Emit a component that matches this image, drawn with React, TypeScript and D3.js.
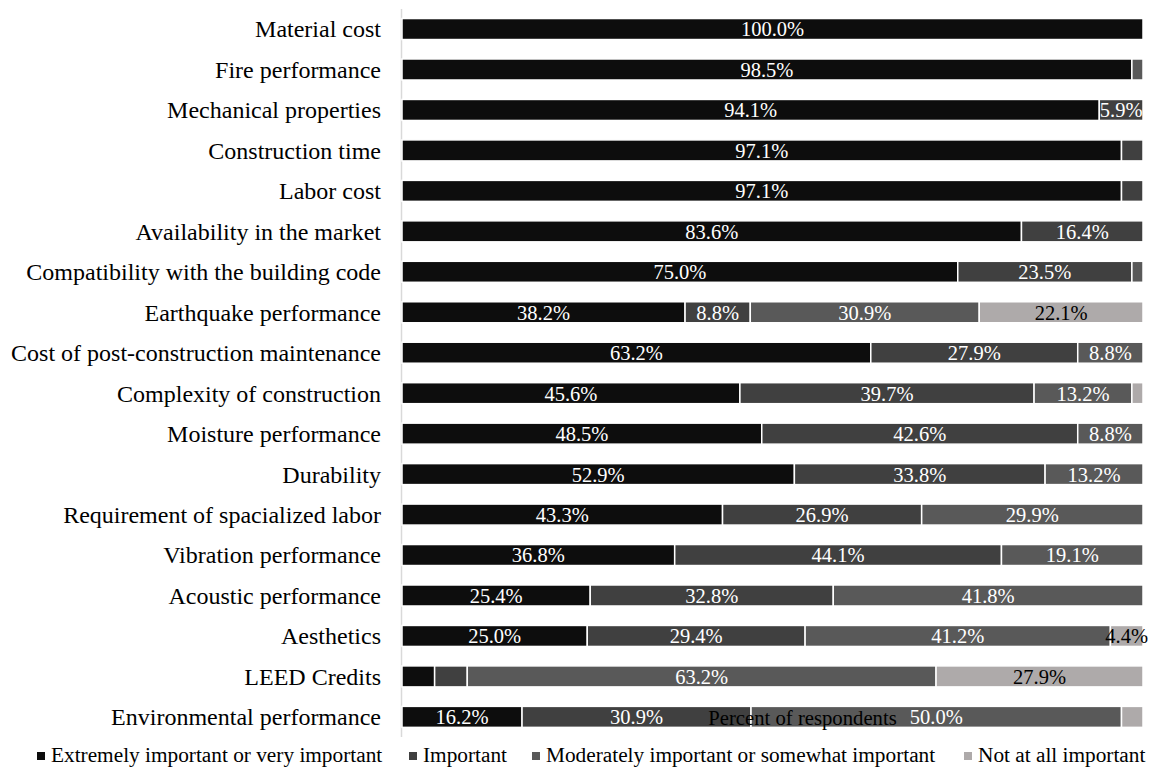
import React from "react";
import * as d3 from "d3";

// Survey factors, top to bottom
const categories = [
  "Material cost",
  "Fire performance",
  "Mechanical properties",
  "Construction time",
  "Labor cost",
  "Availability in the market",
  "Compatibility with the building code",
  "Earthquake performance",
  "Cost of post-construction maintenance",
  "Complexity of construction",
  "Moisture performance",
  "Durability",
  "Requirement of spacialized labor",
  "Vibration performance",
  "Acoustic performance",
  "Aesthetics",
  "LEED Credits",
  "Environmental performance",
];

const seriesNames = [
  "Extremely important or very important",
  "Important",
  "Moderately important or somewhat important",
  "Not at all important",
];

// Percent of respondents per category, one array per response level
const extremely = [100.0, 98.5, 94.1, 97.1, 97.1, 83.6, 75.0, 38.2, 63.2, 45.6, 48.5, 52.9, 43.3, 36.8, 25.4, 25.0, 4.4, 16.2];
const important = [0, 0, 5.9, 2.9, 2.9, 16.4, 23.5, 8.8, 27.9, 39.7, 42.6, 33.8, 26.9, 44.1, 32.8, 29.4, 4.4, 30.9];
const moderately = [0, 1.5, 0, 0, 0, 0, 1.5, 30.9, 8.8, 13.2, 8.8, 13.2, 29.9, 19.1, 41.8, 41.2, 63.2, 50.0];
const notAtAll = [0, 0, 0, 0, 0, 0, 0, 22.1, 0, 1.5, 0, 0, 0, 0, 0, 4.4, 27.9, 2.9];

const seriesValues = [extremely, important, moderately, notAtAll];
const colors = ["#0d0d0d", "#404040", "#595959", "#aeaaaa"];
const labelColors = ["#ffffff", "#ffffff", "#ffffff", "#000000"];

// Segments whose data labels are left off
const hiddenLabels = new Set(["LEED Credits|0", "LEED Credits|1"]);
const minLabeled = 4;

const W = 1157;
const H = 767;
const FONT = "'Liberation Serif', 'Times New Roman', serif";

const legendX = [37, 409, 532, 964];

export default function App() {
  const x = d3.scaleLinear().domain([0, 100]).range([402, 1143]);
  const y = d3
    .scaleBand<string>()
    .domain(categories)
    .range([8.8, 737.1])
    .paddingInner(0.481)
    .paddingOuter(0.2405);

  const rows = categories.map((cat, i) => {
    const vals = seriesValues.map((s) => s[i]);
    const total = d3.sum(vals);
    let acc = 0;
    const segs = vals.map((v, k) => {
      const x0 = (acc / total) * 100;
      acc += v;
      const x1 = (acc / total) * 100;
      return { k, v, x0, x1 };
    });
    return { cat, segs };
  });

  const bw = y.bandwidth();

  return (
    <svg
      width={W}
      height={H}
      style={{ position: "absolute", left: 0, top: 0, background: "#fff" }}
      fontFamily={FONT}
    >
      <rect x={0} y={0} width={W} height={H} fill="#ffffff" />
      {/* category axis line */}
      <line x1={401.5} x2={401.5} y1={9} y2={737} stroke="#d9d9d9" strokeWidth={1.5} />

      {rows.map((r) => {
        const y0 = y(r.cat)!;
        const cy = y0 + bw / 2;
        return (
          <g key={r.cat}>
            <text x={381} y={cy + 8.4} textAnchor="end" fontSize={24} fill="#000">
              {r.cat}
            </text>
            {r.segs
              .filter((s) => s.v > 0)
              .map((s) => (
                <rect
                  key={s.k}
                  x={x(s.x0)}
                  y={y0}
                  width={x(s.x1) - x(s.x0)}
                  height={bw}
                  fill={colors[s.k]}
                  stroke="#ffffff"
                  strokeWidth={1.5}
                />
              ))}
            {r.segs
              .filter((s) => s.v >= minLabeled && !hiddenLabels.has(`${r.cat}|${s.k}`))
              .map((s) => (
                <text
                  key={"l" + s.k}
                  x={(x(s.x0) + x(s.x1)) / 2}
                  y={cy + 7.4}
                  textAnchor="middle"
                  fontSize={20.5}
                  fill={labelColors[s.k]}
                >
                  {d3.format(".1f")(s.v) + "%"}
                </text>
              ))}
          </g>
        );
      })}

      {/* value axis title */}
      <text x={802.5} y={725} textAnchor="middle" fontSize={20.7} fill="#000">
        Percent of respondents
      </text>

      {/* legend */}
      {seriesNames.map((name, k) => (
        <g key={name}>
          <rect x={legendX[k]} y={752} width={8} height={8} fill={colors[k]} />
          <text x={legendX[k] + 14} y={762} fontSize={21.3} fill="#000">
            {name}
          </text>
        </g>
      ))}
    </svg>
  );
}
